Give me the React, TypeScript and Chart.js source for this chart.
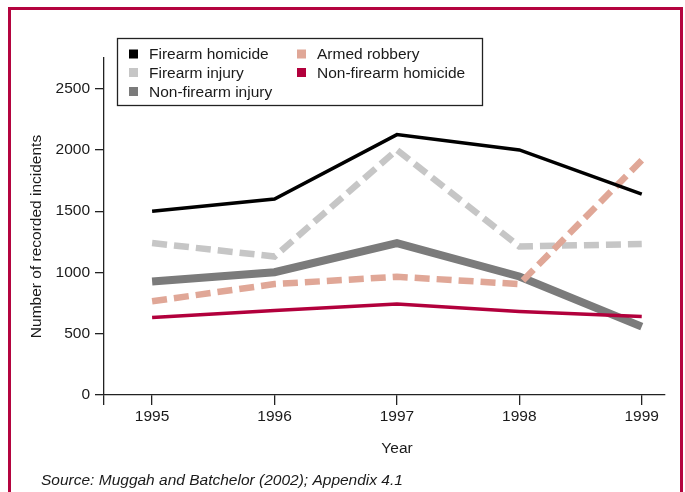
import { useEffect, useRef } from 'react';
import { Chart, registerables } from 'chart.js';

Chart.register(...registerables);

const years = [1995, 1996, 1997, 1998, 1999];
const firearmHomicide = [1500, 1600, 2125, 2000, 1640];
const armedRobbery = [765, 905, 965, 905, 1915];
const firearmInjury = [1240, 1130, 2000, 1212, 1232];
const nonFirearmHomicide = [632, 690, 743, 682, 640];
const nonFirearmInjury = [926, 1002, 1240, 967, 558];
const yTickValues = [0, 500, 1000, 1500, 2000, 2500];

const seriesLabels = [
  'Firearm homicide',
  'Armed robbery',
  'Firearm injury',
  'Non-firearm homicide',
  'Non-firearm injury',
];

const FONT_FAMILY = "'Liberation Sans', Arial, Helvetica, sans-serif";
const TEXT = '#1a1a1a';
const AXIS = '#222222';
const FRAME = '#b4043f';

const toPoints = (vals: number[]) => years.map((x, i) => ({ x, y: vals[i] }));

const decorPlugin = {
  id: 'decor',
  beforeDraw(chart: any) {
    const { ctx } = chart;
    ctx.save();
    ctx.fillStyle = '#ffffff';
    ctx.fillRect(0, 0, chart.width, chart.height);
    ctx.restore();
  },
  afterDraw(chart: any) {
    const { ctx } = chart;
    ctx.save();
    // frame
    ctx.strokeStyle = FRAME;
    ctx.lineWidth = 3;
    ctx.strokeRect(9.5, 8.5, 672, 600);

    // legend box
    ctx.strokeStyle = AXIS;
    ctx.lineWidth = 1.3;
    ctx.strokeRect(117.5, 38.5, 365, 67);

    const colX = [129, 297];
    const rowBase = [59, 77.5, 96.5];
    ctx.font = `15.5px ${FONT_FAMILY}`;
    ctx.fillStyle = TEXT;
    ctx.textBaseline = 'alphabetic';
    ctx.textAlign = 'left';
    chart.data.datasets.forEach((ds: any, i: number) => {
      const c = i % 2;
      const r = Math.floor(i / 2);
      const x = colX[c];
      const yb = rowBase[r];
      ctx.fillStyle = ds.borderColor;
      ctx.fillRect(x, yb - 9.5, 9, 9);
      ctx.fillStyle = TEXT;
      ctx.fillText(ds.label, x + 20, yb);
    });

    // y title
    ctx.save();
    ctx.translate(37, 236.5);
    ctx.rotate(-Math.PI / 2);
    ctx.textAlign = 'center';
    ctx.textBaseline = 'middle';
    ctx.font = `15.5px ${FONT_FAMILY}`;
    ctx.fillStyle = TEXT;
    ctx.fillText('Number of recorded incidents', 0, 0);
    ctx.restore();

    // x title
    ctx.textAlign = 'center';
    ctx.textBaseline = 'middle';
    ctx.font = `15.5px ${FONT_FAMILY}`;
    ctx.fillStyle = TEXT;
    ctx.fillText('Year', 397, 449);

    // source
    ctx.textAlign = 'left';
    ctx.textBaseline = 'alphabetic';
    ctx.font = `italic 15.5px ${FONT_FAMILY}`;
    ctx.fillText('Source: Muggah and Batchelor (2002); Appendix 4.1', 41, 485);
    ctx.restore();
  },
};

export default function App() {
  const ref = useRef<HTMLCanvasElement | null>(null);

  useEffect(() => {
    if (!ref.current) return;
    const font = { family: FONT_FAMILY, size: 15.5 };
    const chart = new Chart(ref.current, {
      type: 'line',
      data: {
        datasets: [
          {
            label: seriesLabels[0],
            data: toPoints(firearmHomicide),
            borderColor: '#000000',
            borderWidth: 3.5,
            order: 0,
          },
          {
            label: seriesLabels[1],
            data: toPoints(armedRobbery),
            borderColor: '#e0a797',
            borderWidth: 6.5,
            borderDash: [15, 7],
            order: 2,
          },
          {
            label: seriesLabels[2],
            data: toPoints(firearmInjury),
            borderColor: '#c6c6c6',
            borderWidth: 6.5,
            borderDash: [15, 7],
            order: 3,
          },
          {
            label: seriesLabels[3],
            data: toPoints(nonFirearmHomicide),
            borderColor: '#b2003c',
            borderWidth: 3.5,
            order: 1,
          },
          {
            label: seriesLabels[4],
            data: toPoints(nonFirearmInjury),
            borderColor: '#7b7b7b',
            borderWidth: 8,
            order: 4,
          },
        ] as any,
      },
      options: {
        responsive: false,
        animation: false,
        layout: { padding: { left: 0, top: 58, right: 20, bottom: 0 } },
        elements: {
          point: { radius: 0, hoverRadius: 0 },
          line: { tension: 0, borderJoinStyle: 'miter', borderCapStyle: 'butt', fill: false },
        },
        plugins: {
          legend: { display: false },
          tooltip: { enabled: false },
          title: { display: false },
        },
        scales: {
          x: {
            type: 'linear',
            min: 1994.607,
            max: 1999.19,
            afterBuildTicks: (s: any) => {
              s.ticks = [{ value: s.min }, ...years.map((v) => ({ value: v }))];
            },
            afterFit: (s: any) => {
              s.height = 97;
            },
            ticks: {
              autoSkip: false,
              maxRotation: 0,
              padding: 2,
              color: TEXT,
              font,
              callback: (v: any) => (years.includes(v) ? String(v) : ''),
            },
            grid: { drawOnChartArea: false, drawTicks: true, tickLength: 10, color: AXIS, lineWidth: 1.3 },
            border: { display: true, color: AXIS, width: 1.3 },
          },
          y: {
            type: 'linear',
            min: 0,
            max: 2750,
            afterBuildTicks: (s: any) => {
              s.ticks = yTickValues.map((v) => ({ value: v }));
            },
            afterFit: (s: any) => {
              s.width = 104;
            },
            ticks: {
              padding: 5,
              color: TEXT,
              font,
              callback: (v: any) => String(v),
            },
            grid: { drawOnChartArea: false, drawTicks: true, tickLength: 9, color: AXIS, lineWidth: 1.3 },
            border: { display: true, color: AXIS, width: 1.3 },
          },
        },
      } as any,
      plugins: [decorPlugin],
    });
    return () => chart.destroy();
  }, []);

  return (
    <div style={{ position: 'absolute', left: 0, top: 0, width: 685, height: 492 }}>
      <canvas ref={ref} width={685} height={492} style={{ display: 'block', width: 685, height: 492 }} />
    </div>
  );
}
